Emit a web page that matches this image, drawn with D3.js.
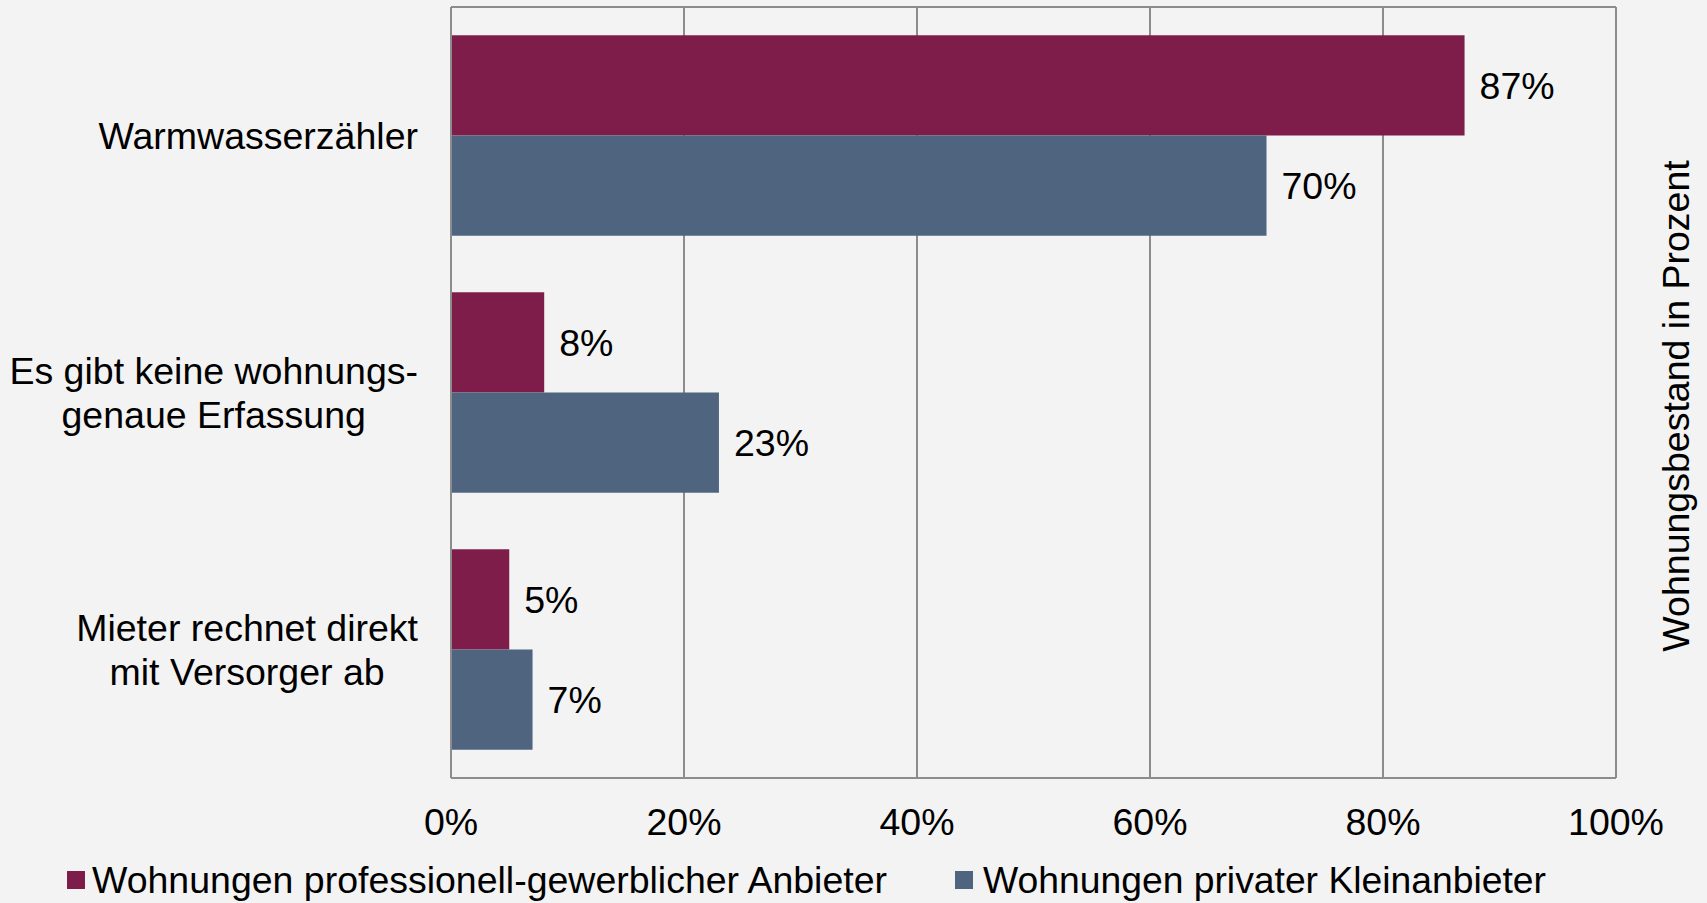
<!DOCTYPE html>
<html>
<head>
<meta charset="utf-8">
<script src="https://cdn.jsdelivr.net/npm/d3@7"></script>
<style>
  html, body { margin: 0; padding: 0; background: #f3f3f3; }
  svg { display: block; font-family: "Liberation Sans", Arial, sans-serif; }
</style>
</head>
<body>
<div id="chart"></div>
<script>
(function () {

    // Daten
    const categories = [
        ['Warmwasserzähler'],
        ['Es gibt keine wohnungs-', 'genaue Erfassung'],
        ['Mieter rechnet direkt', 'mit Versorger ab']
    ];
    const seriesNames = [
        'Wohnungen professionell-gewerblicher Anbieter',
        'Wohnungen privater Kleinanbieter'
    ];
    const professionell = [87, 8, 5];
    const privat = [70, 23, 7];
    const ticks = [0, 20, 40, 60, 80, 100];
    const axisTitle = 'Wohnungsbestand in Prozent';

    const colors = ['#7e1c4a', '#4e647f'];
    const W = 1707, H = 903;
    const m = { left: 451, right: 1616, top: 7, bottom: 778 };
    const fs = 37.5;

    const chart = d3.select('#chart')
        .append('svg')
        .attr('width', W)
        .attr('height', H);

    chart.append('rect')
        .attr('width', W).attr('height', H)
        .attr('fill', '#f3f3f3');

    // Skalen
    const x = d3.scaleLinear()
        .domain([0, 100])
        .range([m.left, m.right]);

    const y = d3.scaleBand()
        .domain(d3.range(categories.length))
        .range([m.top, m.bottom])
        .paddingInner(0.22)
        .paddingOuter(0.11);

    const ySub = d3.scaleBand()
        .domain([0, 1])
        .range([0, y.bandwidth()]);

    // Gitterlinien
    chart.append('g')
        .selectAll('line')
        .data(ticks.slice(1))
        .enter()
        .append('line')
        .attr('x1', d => x(d)).attr('x2', d => x(d))
        .attr('y1', m.top).attr('y2', m.bottom)
        .attr('stroke', '#8c8c8c')
        .attr('stroke-width', 2);

    chart.append('line')
        .attr('x1', m.left).attr('x2', m.right)
        .attr('y1', m.top).attr('y2', m.top)
        .attr('stroke', '#8c8c8c').attr('stroke-width', 2);

    // Balken
    const rows = categories.map((c, i) => ({ i, vals: [professionell[i], privat[i]] }));

    const groups = chart.append('g')
        .selectAll('g')
        .data(rows)
        .enter()
        .append('g')
        .attr('transform', d => `translate(0,${y(d.i)})`);

    groups.selectAll('rect')
        .data(d => d.vals.map((v, k) => ({ v, k })))
        .enter()
        .append('rect')
        .attr('x', x(0))
        .attr('y', d => ySub(d.k))
        .attr('width', d => x(d.v) - x(0))
        .attr('height', ySub.bandwidth())
        .attr('fill', d => colors[d.k]);

    groups.selectAll('text')
        .data(d => d.vals.map((v, k) => ({ v, k })))
        .enter()
        .append('text')
        .attr('x', d => x(d.v) + 15)
        .attr('y', d => ySub(d.k) + ySub.bandwidth() / 2)
        .attr('dy', '0.35em')
        .attr('font-size', fs)
        .attr('fill', '#000')
        .text(d => d.v + '%');

    // Achsen
    chart.append('line')
        .attr('x1', m.left).attr('x2', m.left)
        .attr('y1', m.top).attr('y2', m.bottom)
        .attr('stroke', '#8c8c8c').attr('stroke-width', 2);

    chart.append('line')
        .attr('x1', m.left).attr('x2', m.right)
        .attr('y1', m.bottom).attr('y2', m.bottom)
        .attr('stroke', '#8c8c8c').attr('stroke-width', 2);

    chart.append('g')
        .selectAll('text')
        .data(ticks)
        .enter()
        .append('text')
        .attr('x', d => x(d))
        .attr('y', 835)
        .attr('text-anchor', 'middle')
        .attr('font-size', fs)
        .text(d => d + '%');

    // Kategorienbeschriftung, zentriert, rechtsbündig am Block
    categories.forEach((lines, i) => {
        const g = chart.append('g');
        const cy = y(i) + y.bandwidth() / 2;
        const t = g.append('text')
            .attr('font-size', fs)
            .attr('text-anchor', 'middle');
        lines.forEach((l, j) => {
            t.append('tspan')
                .attr('x', 0)
                .attr('y', cy + (j - (lines.length - 1) / 2) * 44)
                .attr('dy', '0.35em')
                .text(l);
        });
        const maxW = d3.max(t.selectAll('tspan').nodes(), n => n.getComputedTextLength());
        t.selectAll('tspan').attr('x', 418 - maxW / 2);
    });

    // Achsentitel rechts
    chart.append('text')
        .attr('transform', 'translate(1676,406) rotate(-90)')
        .attr('text-anchor', 'middle')
        .attr('dy', '0.35em')
        .attr('font-size', fs)
        .text(axisTitle);

    // Legende
    const legendPos = [
        { sx: 67, tx: 92, tw: 795 },
        { sx: 955, tx: 983, tw: 563 }
    ];
    const legend = chart.append('g')
        .selectAll('g')
        .data(seriesNames)
        .enter()
        .append('g');

    legend.append('rect')
        .attr('x', (d, i) => legendPos[i].sx)
        .attr('y', 871)
        .attr('width', 18)
        .attr('height', 18)
        .attr('fill', (d, i) => colors[i]);

    legend.append('text')
        .attr('x', (d, i) => legendPos[i].tx)
        .attr('y', 893)
        .attr('font-size', 37)
        .attr('textLength', (d, i) => legendPos[i].tw)
        .attr('lengthAdjust', 'spacingAndGlyphs')
        .text(d => d);

})();
</script>
</body>
</html>
